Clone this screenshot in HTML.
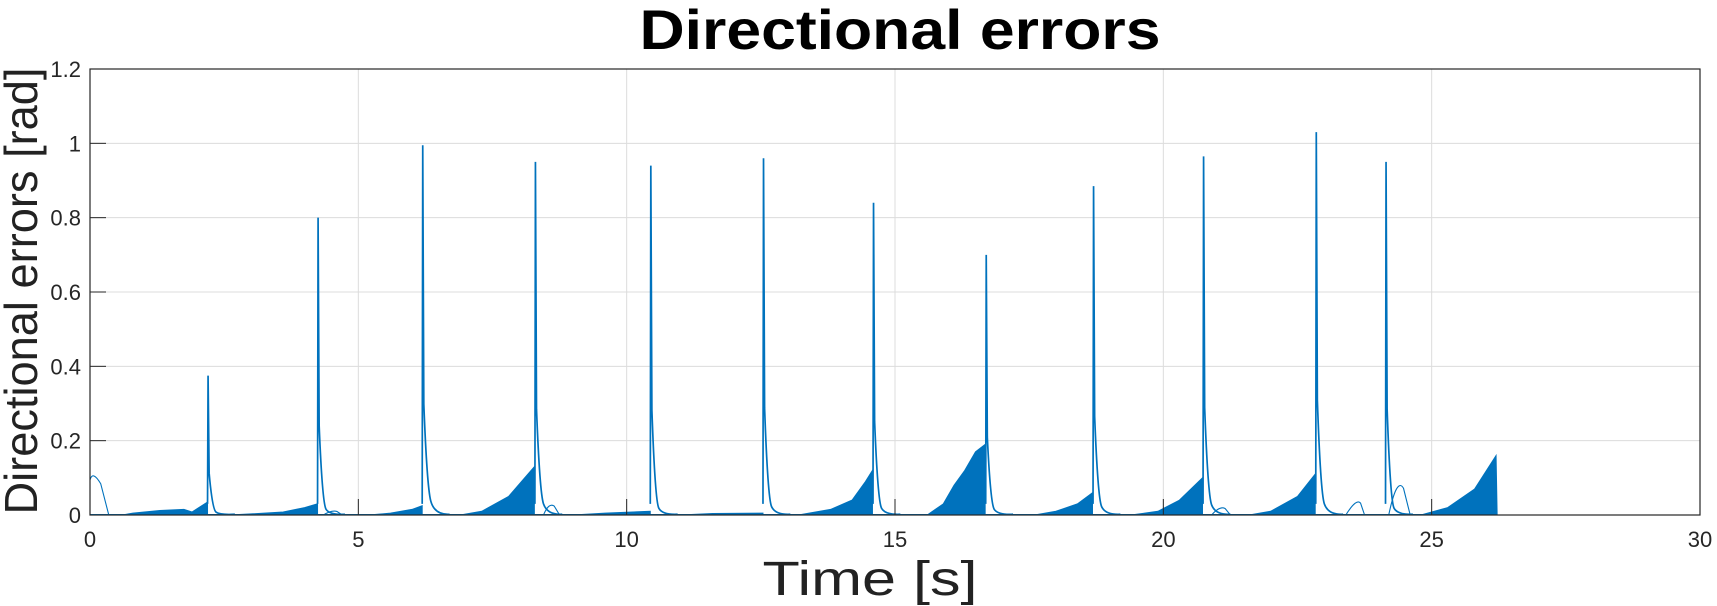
<!DOCTYPE html>
<html><head><meta charset="utf-8"><style>
html,body{margin:0;padding:0;background:#fff;}
svg{display:block;font-family:"Liberation Sans",sans-serif;}
</style></head><body>
<svg id="chart" width="1717" height="606" viewBox="0 0 1717 606">
<rect x="0" y="0" width="1717" height="606" fill="#fff"/>
<text x="900" y="49" text-anchor="middle" font-size="56" font-weight="bold" fill="#000" textLength="521" lengthAdjust="spacingAndGlyphs">Directional errors</text>
<g id="grid"></g>
<g id="series"></g>
<g id="axes"></g>
<text x="870" y="595" text-anchor="middle" font-size="48" fill="#222" textLength="215" lengthAdjust="spacingAndGlyphs">Time [s]</text>
<text transform="translate(37,291) rotate(-90)" text-anchor="middle" font-size="46" fill="#222" textLength="447" lengthAdjust="spacingAndGlyphs">Directional errors [rad]</text>
</svg>
<script>
const xTicks = [0,5,10,15,20,25,30];
const yTicks = [0,0.2,0.4,0.6,0.8,1,1.2];
const yTickLabels = ["0","0.2","0.4","0.6","0.8","1","1.2"];
const peakTimes = [2.2,4.25,6.2,8.3,10.45,12.55,14.6,16.7,18.7,20.75,22.85,24.15];
const peakValues = [0.375,0.80,0.995,0.95,0.94,0.96,0.84,0.70,0.885,0.965,1.03,0.95];
const tailValues = [0.05,0.1,0.25,0.2,0.12,0.15,0.12,0.1,0.15,0.18,0.2,0.12];
// filled oscillation envelopes: [time, value] pairs
const envelopes = [
 [[0.6,0],[0.8,0.005],[1.3,0.012],[1.75,0.015],[1.9,0.008],[2.19,0.035]],
 [[2.6,0],[3.0,0.003],[3.6,0.008],[4.0,0.02],[4.24,0.03]],
 [[5.2,0],[5.6,0.005],[6.0,0.015],[6.19,0.025]],
 [[6.9,0],[7.3,0.01],[7.8,0.05],[8.1,0.1],[8.28,0.13]],
 [[9.0,0],[9.6,0.005],[10.44,0.01]],
 [[11.0,0],[11.6,0.004],[12.54,0.005]],
 [[13.2,0],[13.8,0.015],[14.2,0.04],[14.45,0.09],[14.58,0.12]],
 [[15.6,0],[15.9,0.03],[16.1,0.08],[16.3,0.12],[16.5,0.17],[16.68,0.19]],
 [[17.6,0],[18.0,0.01],[18.4,0.03],[18.68,0.06]],
 [[19.4,0],[19.9,0.01],[20.3,0.04],[20.73,0.1]],
 [[21.6,0],[22.0,0.01],[22.5,0.05],[22.83,0.11]],
 [[24.8,0],[25.3,0.02],[25.8,0.07],[26.2,0.16],[26.22,0]]
];
// small transient bumps: [start, peak time, peak value, end]
const bumps = [[0,0.05,0.105,0.35],[4.35,4.5,0.012,4.7],[8.45,8.55,0.03,8.75],[20.9,21.05,0.022,21.25],[23.4,23.6,0.04,23.75],[24.2,24.35,0.09,24.6]];

const L=90,R=1700,T=69,B=515;
const xs=t=>L+(t/30)*(R-L);
const ys=v=>B-(v/1.2)*(B-T);
const NS="http://www.w3.org/2000/svg";
function mk(tag,attrs,parent){const e=document.createElementNS(NS,tag);for(const k in attrs)e.setAttribute(k,attrs[k]);parent.appendChild(e);return e;}
const grid=document.getElementById('grid'),axes=document.getElementById('axes'),series=document.getElementById('series');
xTicks.forEach((t,i)=>{
 if(t>0&&t<30){const g=mk('line',{x1:xs(t),x2:xs(t),y1:T,y2:B,stroke:'#dcdcdc','stroke-width':1},grid);
 
 }
 const tk=mk('line',{x1:xs(t),x2:xs(t),y1:B,y2:B-16,stroke:'#262626','stroke-width':1},axes);
 
 
 const lb=mk('text',{x:xs(t),y:B+32,'text-anchor':'middle','font-size':22,fill:'#262626'},axes);
 lb.textContent=String(t);
 
 
});
yTicks.forEach((v,i)=>{
 if(v>0&&v<1.2){const g=mk('line',{x1:L,x2:R,y1:ys(v),y2:ys(v),stroke:'#dcdcdc','stroke-width':1},grid);
 
 }
 const tk=mk('line',{x1:L,x2:L+16,y1:ys(v),y2:ys(v),stroke:'#262626','stroke-width':1},axes);
 
 
 const lb=mk('text',{x:L-9,y:ys(v)+8,'text-anchor':'end','font-size':22,fill:'#262626'},axes);
 lb.textContent=yTickLabels[i];
 
 
});
const box=mk('rect',{x:L,y:T,width:R-L,height:B-T,fill:'none',stroke:'#262626','stroke-width':1.2},axes);


const C='#0072BD';
envelopes.forEach(env=>{
 let d='M'+xs(env[0][0])+','+ys(0);
 env.forEach(p=>{d+=' L'+xs(p[0])+','+ys(p[1]);});
 d+=' L'+xs(env[env.length-1][0])+','+ys(0)+' Z';
 const p=mk('path',{d:d,fill:C,stroke:C,'stroke-width':1},series);
 
 
});
const base=mk('line',{x1:xs(0),x2:xs(26.22),y1:ys(0)-0.5,y2:ys(0)-0.5,stroke:C,'stroke-width':1},series);


peakTimes.forEach((t,i)=>{
 const v=peakValues[i],tv=tailValues[i];
 const d='M'+xs(t-0.01)+','+ys(0.03)+' L'+xs(t)+','+ys(v)+' L'+xs(t+0.02)+','+ys(v*0.3)+' Q'+xs(t+0.08)+','+ys(tv*0.3)+' '+xs(t+0.15)+','+ys(tv*0.15)+' T'+xs(t+0.5)+','+ys(0.002);
 const p=mk('path',{d:d,fill:'none',stroke:C,'stroke-width':1.7},series);
 
 
});
bumps.forEach(b=>{
 const d='M'+xs(b[0])+','+ys(b[0]===0?b[2]*0.9:0)+' Q'+xs(b[1])+','+ys(b[2]*1.15)+' '+xs((b[1]+b[3])/2)+','+ys(b[2]*0.8)+' L'+xs(b[3])+','+ys(0);
 const p=mk('path',{d:d,fill:'none',stroke:C,'stroke-width':1.1},series);
 
 
});
</script>
</body></html>
